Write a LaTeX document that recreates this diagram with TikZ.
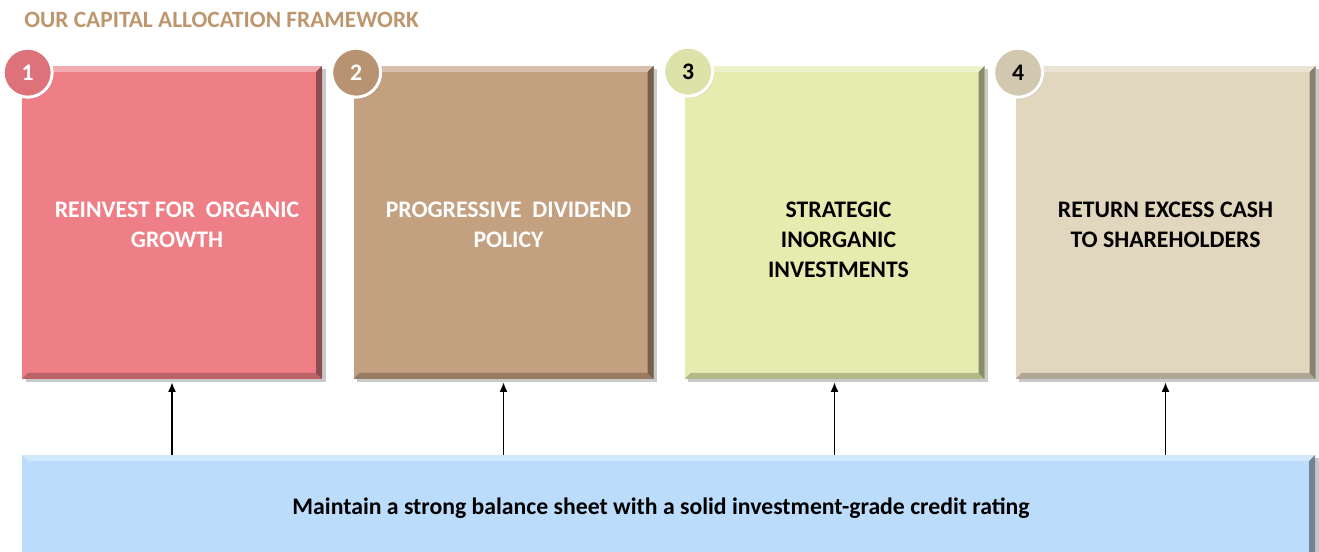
\documentclass[tikz,border=0pt]{standalone}
\usepackage{fontspec}
\setmainfont{Carlito}
\usetikzlibrary{calc, shadows, arrows.meta}

\definecolor{headbrown}{RGB}{190,150,110}
\definecolor{rosefill}{RGB}{239,127,134}
\definecolor{rosedot}{RGB}{221,114,122}
\definecolor{tanfill}{RGB}{194,160,128}
\definecolor{tandot}{RGB}{184,147,114}
\definecolor{limefill}{RGB}{230,236,176}
\definecolor{limedot}{RGB}{220,226,168}
\definecolor{sandfill}{RGB}{225,215,190}
\definecolor{sanddot}{RGB}{210,200,175}
\definecolor{skyfill}{RGB}{187,220,251}

\tikzset{
  slab/.style={inner sep=0pt,
    drop shadow={shadow xshift=.07cm, shadow yshift=-.07cm, opacity=.3, fill=black!70},
    path picture={
      \coordinate (nw) at (path picture bounding box.north west);
      \coordinate (ne) at (path picture bounding box.north east);
      \coordinate (sw) at (path picture bounding box.south west);
      \coordinate (se) at (path picture bounding box.south east);
      \fill[white,opacity=.35] (nw) -- (ne) -- ([shift={(-.12,-.12)}]ne) -- ([shift={(.12,-.12)}]nw) -- cycle;
      \fill[black,opacity=.4] (ne) -- (se) -- ([shift={(-.12,.12)}]se) -- ([shift={(-.12,-.12)}]ne) -- cycle;
      \fill[black,opacity=.22] (sw) -- (se) -- ([shift={(-.12,.12)}]se) -- ([shift={(.12,.12)}]sw) -- cycle;
    }},
  pillar/.style={slab, minimum width=6cm, minimum height=6.26cm},
  caption/.style={anchor=north, inner sep=0pt, align=center,
    font=\bfseries\fontsize{13.5}{17}\selectfont},
  badge/.style={circle, draw=white, line width=1.7pt, minimum size=.98cm, inner sep=0pt,
    drop shadow={shadow xshift=.03cm, shadow yshift=-.03cm, opacity=.25},
    font=\bfseries\fontsize{13.5}{16}\selectfont},
  lift/.style={-{Latex[length=5.5pt,width=4.6pt]}, line width=.85pt, shorten >=1.7pt},
}

\begin{document}
\begin{tikzpicture}
\clip (0,0) rectangle (26.38,-11.04);
% Heading
\node[anchor=base west, inner sep=0pt, text=headbrown, font=\bfseries\fontsize{13.3}{16}\selectfont]
  (head) at (.48,-.56) {OUR CAPITAL ALLOCATION FRAMEWORK};
% The four pillars
\node[pillar, fill=rosefill] (box1) at (3.44,-4.45) {};
\node[pillar, fill=tanfill] (box2) at (10.07,-4.45) {};
\node[pillar, fill=limefill] (box3) at (16.69,-4.45) {};
\node[pillar, fill=sandfill] (box4) at (23.31,-4.45) {};
% Texts of the pillars
\node[caption, text=white] (txt1) at ([shift={(.1,.42)}]box1.center) {REINVEST FOR\ \ ORGANIC\\GROWTH};
\node[caption, text=white] (txt2) at ([shift={(.1,.42)}]box2.center) {PROGRESSIVE\ \ DIVIDEND\\POLICY};
\node[caption] (txt3) at ([shift={(.08,.42)}]box3.center) {STRATEGIC\\INORGANIC\\INVESTMENTS};
\node[caption] (txt4) at ([shift={(0,.42)}]box4.center) {RETURN EXCESS CASH\\TO SHAREHOLDERS};
% Numbered badges on the corners
\node[badge, fill=rosedot, text=white] (num1) at ([shift={(.12,-.14)}]box1.north west) {1};
\node[badge, fill=tandot, text=white] (num2) at ([shift={(.06,-.14)}]box2.north west) {2};
\node[badge, fill=limedot] (num3) at ([shift={(.08,-.12)}]box3.north west) {3};
\node[badge, fill=sanddot] (num4) at ([shift={(.06,-.14)}]box4.north west) {4};
% Foundation bar
\node[slab, fill=skyfill, minimum width=25.86cm, minimum height=2.12cm] (base) at (13.37,-10.16) {};
\node[inner sep=0pt, font=\bfseries\fontsize{13.5}{16}\selectfont] (msg) at (13.22,-10.16)
  {Maintain a strong balance sheet with a solid investment-grade credit rating};
% Arrows up to the pillars
\draw[lift] (base.north -| box1.south) -- (box1.south);
\draw[lift] (base.north -| box2.south) -- (box2.south);
\draw[lift] (base.north -| box3.south) -- (box3.south);
\draw[lift] (base.north -| box4.south) -- (box4.south);
\end{tikzpicture}
\end{document}
